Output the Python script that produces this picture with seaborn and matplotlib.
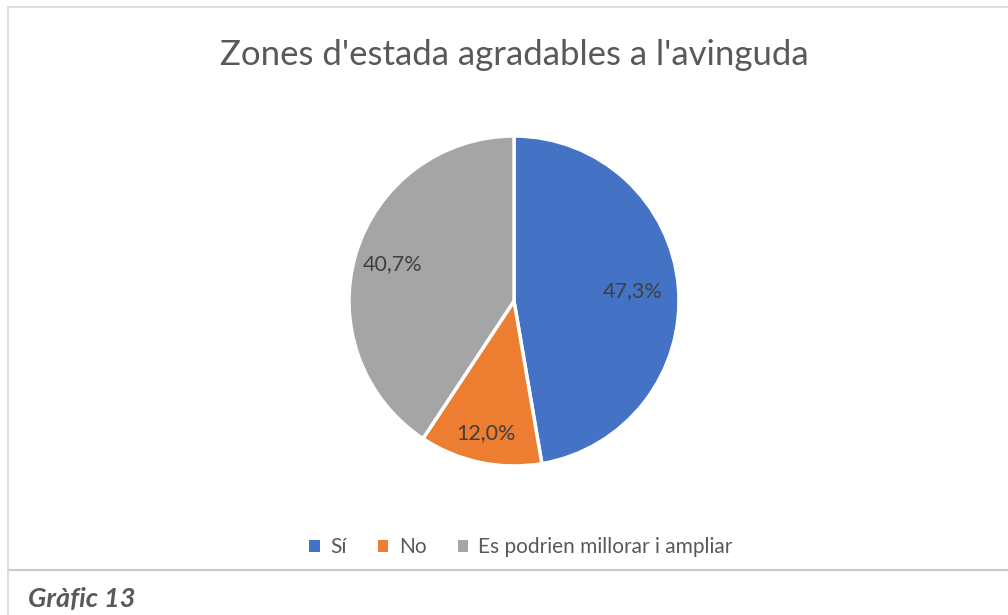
import numpy as np
import matplotlib
matplotlib.use("Agg")
import matplotlib.pyplot as plt
import seaborn as sns
from matplotlib.lines import Line2D
from matplotlib.patches import Patch

categories = ["Sí", "No", "Es podrien millorar i ampliar"]
values = [47.3, 12.0, 40.7]
colors = ["#4472C4", "#ED7D31", "#A5A5A5"]
title = "Zones d'estada agradables a l'avinguda"
caption = "Gràfic 13"

sns.set_theme(style="white")
plt.rcParams['font.family'] = ['Lato', 'DejaVu Sans']
palette = sns.color_palette(colors)

W, H = 1008, 615
fig = plt.figure(figsize=(W / 100, H / 100), dpi=100)
fig.patch.set_facecolor("white")

cx, cy, r = 514, 301, 165
ax = fig.add_axes([(cx - r) / W, (H - cy - r) / H, 2 * r / W, 2 * r / H])
wedges, _ = ax.pie(values, colors=palette, startangle=90, counterclock=False,
                   radius=1, wedgeprops=dict(edgecolor="white", linewidth=2.5))
ax.set_xlim(-1, 1)
ax.set_ylim(-1, 1)
ax.set_aspect("equal")
ax.axis("off")

dists = [0.72, 0.82, 0.77]
for w, v, d in zip(wedges, values, dists):
    th = np.deg2rad((w.theta1 + w.theta2) / 2)
    ax.text(d * np.cos(th), d * np.sin(th), f"{v:.1f}%".replace(".", ","),
            ha="center", va="center", fontsize=15.5, color="#404040")

fig.text(cx / W, 1 - 55 / H, title, ha="center", va="center",
         fontsize=25, color="#595959")

handles = [Patch(facecolor=c, edgecolor="none") for c in palette]
leg = fig.legend(handles, categories, loc="center", bbox_to_anchor=(521 / W, 1 - 547 / H),
                 ncol=3, frameon=False, fontsize=15, handlelength=0.5, handleheight=0.5,
                 handletextpad=0.5, columnspacing=1.5)
for t in leg.get_texts():
    t.set_color("#595959")

# chart border
fig.add_artist(Line2D([8 / W, 1], [1 - 7 / H, 1 - 7 / H], color="#d9d9d9", lw=1.2))
fig.add_artist(Line2D([8 / W, 1], [1 - 570 / H, 1 - 570 / H], color="#c8c8c8", lw=1.5))
fig.add_artist(Line2D([8 / W, 8 / W], [0, 1 - 7 / H], color="#d9d9d9", lw=1.2))

fig.text(28 / W, 1 - 599 / H, caption, ha="left", va="center", fontsize=19.5,
         fontweight="bold", fontstyle="italic", color="#595959")

fig.savefig("out.png", dpi=100, facecolor="white")
